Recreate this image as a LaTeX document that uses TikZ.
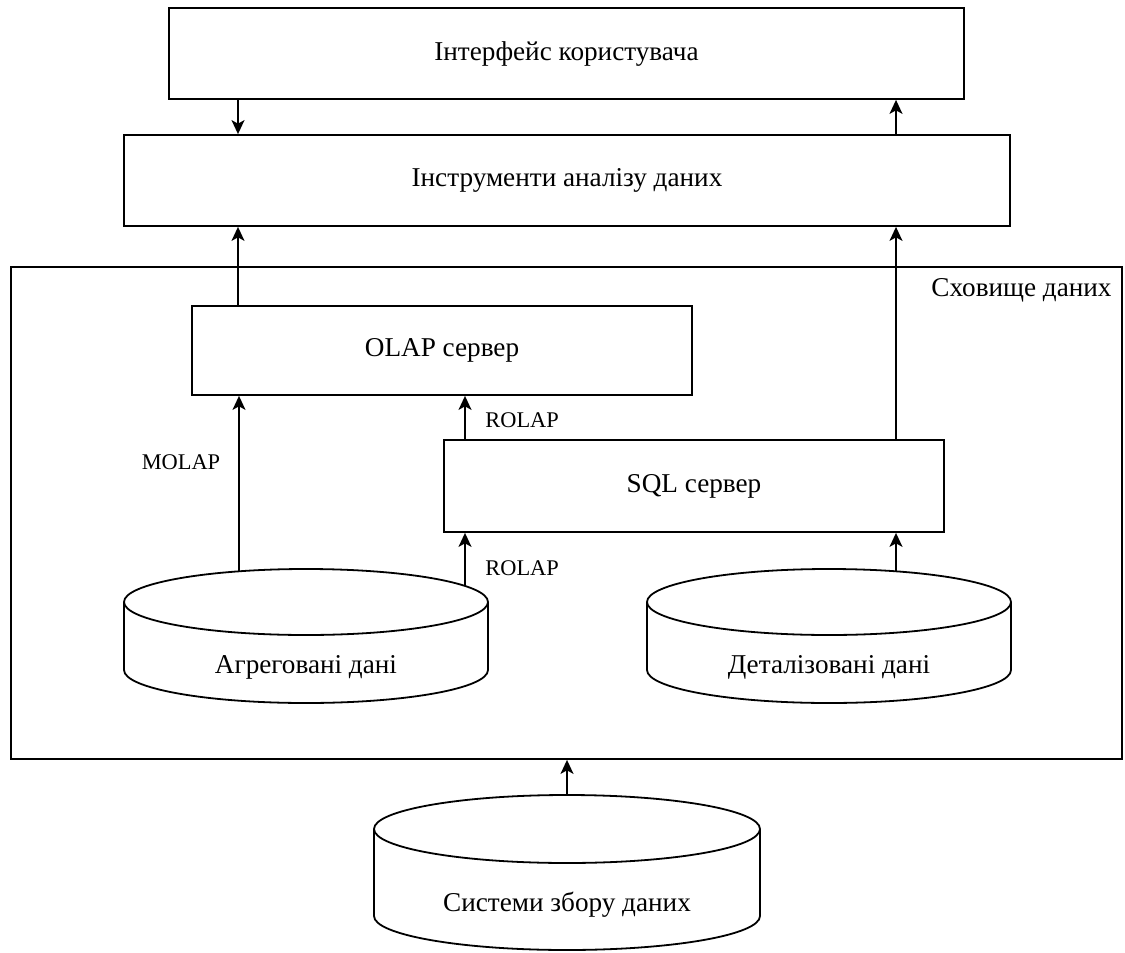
\documentclass[tikz,border=0pt]{standalone}
\usepackage{fontspec}
\setmainfont{Liberation Serif}
\usetikzlibrary{arrows.meta,calc}
\newcommand{\dbcyl}[5]{% #1 cx, #2 top, #3 bottom, #4 rx, #5 ry
  \pgfmathsetmacro{\cyL}{#1-#4}%
  \pgfmathsetmacro{\cyR}{#1+#4}%
  \pgfmathsetmacro{\cyT}{#2+#5}%
  \pgfmathsetmacro{\cyB}{#3-#5}%
  \pgfmathsetmacro{\cyK}{#5*0.5523}%
  \pgfmathsetmacro{\cyKx}{#4*0.5523}%
  \draw[dbline] (#1,\cyT) ellipse [x radius=#4, y radius=#5];
  \draw[dbline] (\cyL,\cyT) -- (\cyL,\cyB) .. controls (\cyL,\cyB+\cyK) and (#1-\cyKx,#3) .. (#1,#3)
     .. controls (#1+\cyKx,#3) and (\cyR,\cyB+\cyK) .. (\cyR,\cyB) -- (\cyR,\cyT);
}
\tikzset{
  box/.style={draw, line width=0.9pt, inner sep=0pt, font=\fontsize{13.6}{16}\selectfont},
  txt/.style={inner sep=0pt, font=\fontsize{13.6}{16}\selectfont},
  lbl/.style={inner sep=0pt, font=\fontsize{11.2}{13}\selectfont},
  dbline/.style={line width=0.9pt},
  arr/.style={line width=0.8pt, -{Stealth[length=7pt,width=6.5pt,inset=1.8pt]}}
}
\begin{document}
\begin{tikzpicture}[x=0.5pt,y=-0.5pt]
\useasboundingbox (0,0) rectangle (1125,953);
% boxes
\node[box, minimum width=397.5pt, minimum height=45.5pt] (ui) at (566.5,53.5) {Інтерфейс користувача};
\node[box, minimum width=443pt, minimum height=45.5pt] (tools) at (567,180.5) {Інструменти аналізу даних};
\node[box, minimum width=555.5pt, minimum height=246pt] (store) at (566.5,513) {};
\node[txt, anchor=east] (storelbl) at (1112,290) {Сховище даних};
\node[box, minimum width=250pt, minimum height=44.5pt] (olap) at (442,350.5) {OLAP сервер};
\node[box, minimum width=250pt, minimum height=46pt] (sql) at (694,486) {SQL сервер};
% cylinders
\dbcyl{306}{569}{703}{182}{33}
\dbcyl{829}{569}{703}{182}{33}
\dbcyl{567}{795}{950}{193}{34}
\node[txt] (agg) at (306,667) {Агреговані дані};
\node[txt] (det) at (829,667) {Деталізовані дані};
\node[txt] (sys) at (567,905) {Системи збору даних};
% connector columns
\coordinate (c1) at (238,0);
\coordinate (c2) at (896,0);
\coordinate (c3) at (465,0);
\coordinate (agga) at (239,571);
\coordinate (aggb) at (465,586);
\coordinate (deta) at (896,571);
\coordinate (sysa) at (567,795);
% arrows
\draw[arr] (c1 |- ui.south) -- (c1 |- tools.north);
\draw[arr] (c2 |- tools.north) -- (c2 |- ui.south);
\draw[arr] (c1 |- olap.north) -- (c1 |- tools.south);
\draw[arr] (c2 |- sql.north) -- (c2 |- tools.south);
\draw[arr] (c3 |- sql.north) -- (c3 |- olap.south);
\draw[arr] (agga) -- (agga |- olap.south);
\draw[arr] (aggb) -- (aggb |- sql.south);
\draw[arr] (deta) -- (deta |- sql.south);
\draw[arr] (sysa) -- (sysa |- store.south);
% labels
\node[lbl] (molap) at (181,462) {MOLAP};
\node[lbl, anchor=west] (rolap1) at (485,420) {ROLAP};
\node[lbl, anchor=west] (rolap2) at (485,568) {ROLAP};
\end{tikzpicture}
\end{document}
